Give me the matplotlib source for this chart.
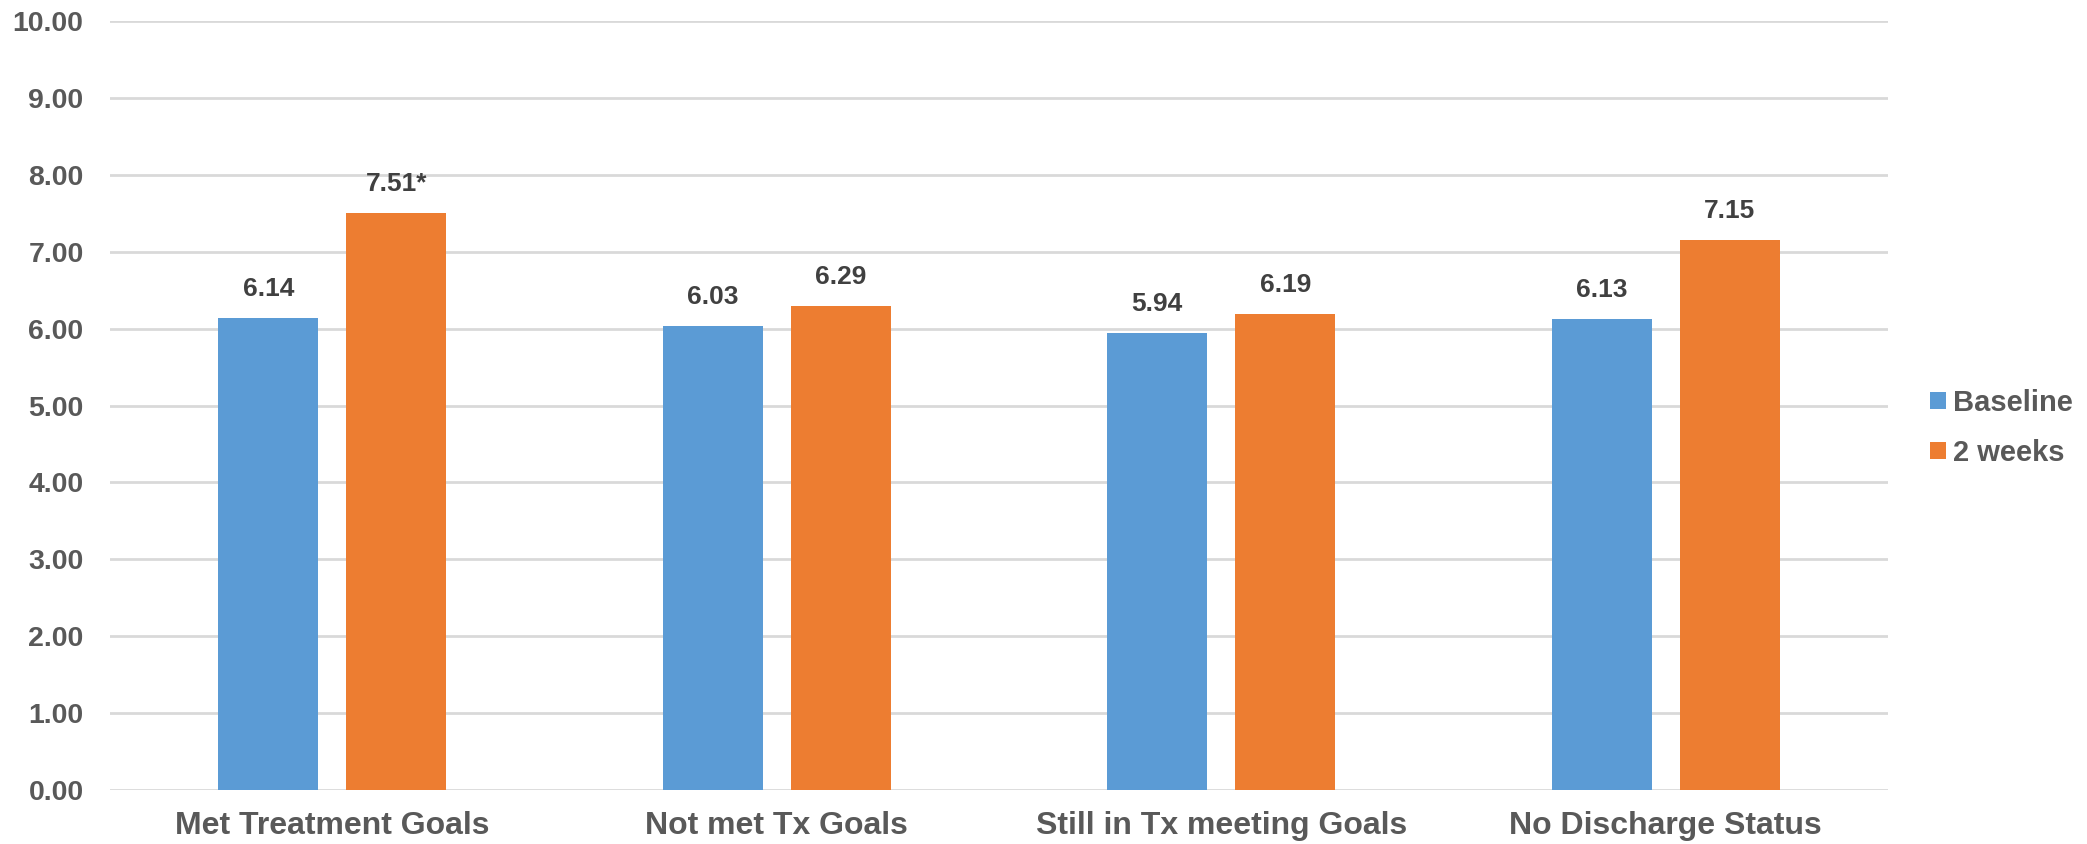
import matplotlib.pyplot as plt
import numpy as np

plt.rcParams['font.family'] = ['Liberation Sans', 'DejaVu Sans']
plt.rcParams['font.weight'] = 'bold'

categories = ['Met Treatment Goals', 'Not met Tx Goals',
              'Still in Tx meeting Goals', 'No Discharge Status']
baseline = [6.14, 6.03, 5.94, 6.13]
two_weeks = [7.51, 6.29, 6.19, 7.15]
two_weeks_labels = ['7.51*', '6.29', '6.19', '7.15']
series_names = ['Baseline', '2 weeks']

blue = '#5B9BD5'
orange = '#ED7D31'
text_grey = '#595959'
label_grey = '#404040'

fig = plt.figure(figsize=(20.87, 8.44), dpi=100)
ax = fig.add_axes([0.0527, 0.064, 0.852, 0.911])

x = np.arange(len(categories))
width = 0.225
off = 0.144
b1 = ax.bar(x - off, baseline, width, color=blue, label=series_names[0], zorder=3)
b2 = ax.bar(x + off, two_weeks, width, color=orange, label=series_names[1], zorder=3)

# value labels above each bar
for rect, v in zip(b1, baseline):
    ax.annotate('%.2f' % v, (rect.get_x() + rect.get_width() / 2, v),
                xytext=(0, 17), textcoords='offset pixels', ha='center',
                va='bottom', fontsize=19, fontweight='bold', color=label_grey)
for rect, v, s in zip(b2, two_weeks, two_weeks_labels):
    ax.annotate(s, (rect.get_x() + rect.get_width() / 2, v),
                xytext=(0, 17), textcoords='offset pixels', ha='center',
                va='bottom', fontsize=19, fontweight='bold', color=label_grey)

ax.set_xlim(-0.5, len(categories) - 0.5)
ax.set_ylim(0, 10)
ax.set_yticks(np.arange(0, 11, 1))
ax.set_yticklabels(['%.2f' % t for t in np.arange(0, 11, 1)])
ax.set_xticks(x)
ax.set_xticklabels(categories)
ax.tick_params(axis='y', length=0, pad=19, labelsize=20.5, labelcolor=text_grey)
ax.tick_params(axis='x', length=0, pad=15, labelsize=23, labelcolor=text_grey)
ax.grid(axis='y', color='#D9D9D9', linewidth=2, zorder=0)
for s in ax.spines.values():
    s.set_visible(False)

fig.legend(handles=[b1, b2], labels=series_names, loc='center left',
           bbox_to_anchor=(0.925, 0.493), frameon=False, borderpad=0,
           borderaxespad=0, fontsize=21, handlelength=0.52, handleheight=0.52,
           handletextpad=0.24, labelcolor=text_grey, labelspacing=0.75)

fig.savefig('out.png', dpi=100)
